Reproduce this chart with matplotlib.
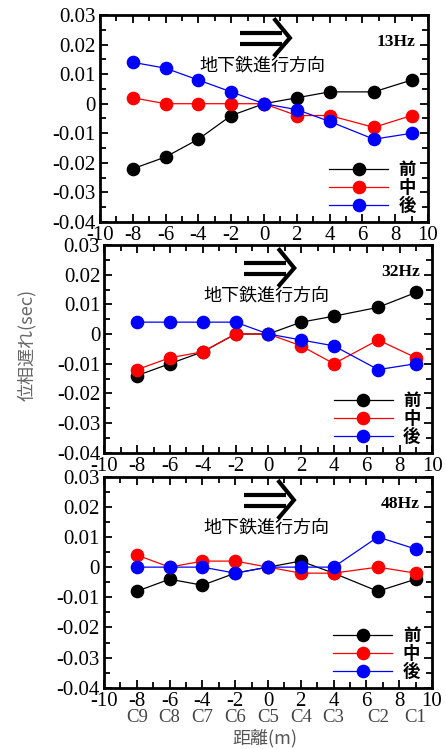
import numpy as np
import matplotlib.pyplot as plt
from matplotlib.ticker import MultipleLocator, FuncFormatter
from matplotlib.transforms import blended_transform_factory

plt.rcParams['font.family'] = ['Liberation Serif', 'DejaVu Sans']
plt.rcParams['axes.unicode_minus'] = False

# 測点位置 (m) と測点名
dist = [-8, -6, -4, -2, 0, 2, 4, 6.7, 9]
stations = ['C9', 'C8', 'C7', 'C6', 'C5', 'C4', 'C3', 'C2', 'C1']

freqs = ['13Hz', '32Hz', '48Hz']
series_names = ['前', '中', '後']
series_colors = ['black', 'red', 'blue']

# 位相遅れ (sec)
mae_13 = [-0.022, -0.018, -0.012, -0.004, 0, 0.002, 0.004, 0.004, 0.008]
naka_13 = [0.002, 0, 0, 0, 0, -0.004, -0.004, -0.008, -0.004]
ato_13 = [0.014, 0.012, 0.008, 0.004, 0, -0.002, -0.006, -0.012, -0.010]

mae_32 = [-0.014, -0.010, -0.006, 0, 0, 0.004, 0.006, 0.009, 0.014]
naka_32 = [-0.012, -0.008, -0.006, 0, 0, -0.004, -0.010, -0.002, -0.008]
ato_32 = [0.004, 0.004, 0.004, 0.004, 0, -0.002, -0.004, -0.012, -0.010]

mae_48 = [-0.008, -0.004, -0.006, -0.002, 0, 0.002, -0.002, -0.008, -0.004]
naka_48 = [0.004, 0, 0.002, 0.002, 0, -0.002, -0.002, 0, -0.002]
ato_48 = [0, 0, 0, -0.002, 0, 0, 0, 0.010, 0.006]

panels = [
    (freqs[0], [mae_13, naka_13, ato_13]),
    (freqs[1], [mae_32, naka_32, ato_32]),
    (freqs[2], [mae_48, naka_48, ato_48]),
]

fig = plt.figure(figsize=(4.46, 7.49), dpi=100)
# [left, bottom, width, height]
rects = [
    [0.2242, 0.7036, 0.7354, 0.2764],
    [0.2339, 0.3956, 0.7354, 0.2773],
    [0.2332, 0.0818, 0.7354, 0.2818],
]

jp = ['Noto Sans CJK JP', 'DejaVu Sans']

for i, (rect, (freq, ys)) in enumerate(zip(rects, panels)):
    ax = fig.add_axes(rect)
    handles = []
    for y, c, name in zip(ys, series_colors, series_names):
        h, = ax.plot(dist, y, color=c, marker='o', markersize=8.8, linewidth=0.9,
                     label=name)
        handles.append(h)

    ax.set_xlim(-10, 10)
    ax.set_ylim(-0.04, 0.03)
    ax.xaxis.set_major_locator(MultipleLocator(2))
    ax.xaxis.set_minor_locator(MultipleLocator(1))
    ax.yaxis.set_major_locator(MultipleLocator(0.01))
    ax.yaxis.set_minor_locator(MultipleLocator(0.005))
    ax.yaxis.set_major_formatter(FuncFormatter(lambda v, p: f'{round(v, 3) + 0.0:g}'))
    ax.tick_params(which='both', direction='in', top=True, right=True, width=1.3)
    ax.tick_params(which='major', length=6, labelsize=15, pad=3)
    ax.tick_params(which='minor', length=4)
    for s in ax.spines.values():
        s.set_linewidth(2)

    # 進行方向の矢印
    ax.plot([0.427, 0.555], [0.913, 0.913], color='black', lw=3, transform=ax.transAxes,
            solid_capstyle='butt')
    ax.plot([0.427, 0.555], [0.860, 0.860], color='black', lw=3, transform=ax.transAxes,
            solid_capstyle='butt')
    ax.plot([0.534, 0.579, 0.534], [0.976, 0.889, 0.807], color='black', lw=3,
            transform=ax.transAxes, solid_joinstyle='miter')
    ax.text(0.495, 0.758, '地下鉄進行方向', transform=ax.transAxes, ha='center',
            va='center', fontsize=13, family=jp)
    ax.text(0.962, 0.87, freq, transform=ax.transAxes, ha='right', va='center',
            fontsize=12.5, fontweight='bold')

    ax.legend(handles=handles, loc='lower right', bbox_to_anchor=(0.985, 0.0),
              frameon=False, handlelength=3.4, handletextpad=0.6,
              labelspacing=0.0, borderaxespad=0,
              prop={'family': jp, 'weight': 'bold', 'size': 12.5})

    if i == 2:
        trans = blended_transform_factory(ax.transData, ax.transAxes)
        for x, s in zip(dist, stations):
            ax.text(x, -0.14, s, transform=trans, ha='center', va='center',
                    fontsize=13.5, color='#444444')
        ax.text(0.49, -0.24, '距離(m)', transform=ax.transAxes, ha='center',
                va='center', fontsize=13, color='#555555', family=jp)

fig.text(0.06, 1 - 345 / 749, '位相遅れ(sec)', rotation=90, ha='center', va='center',
         fontsize=13, color='#666666', family=jp)

fig.savefig('out.png', dpi=100)
